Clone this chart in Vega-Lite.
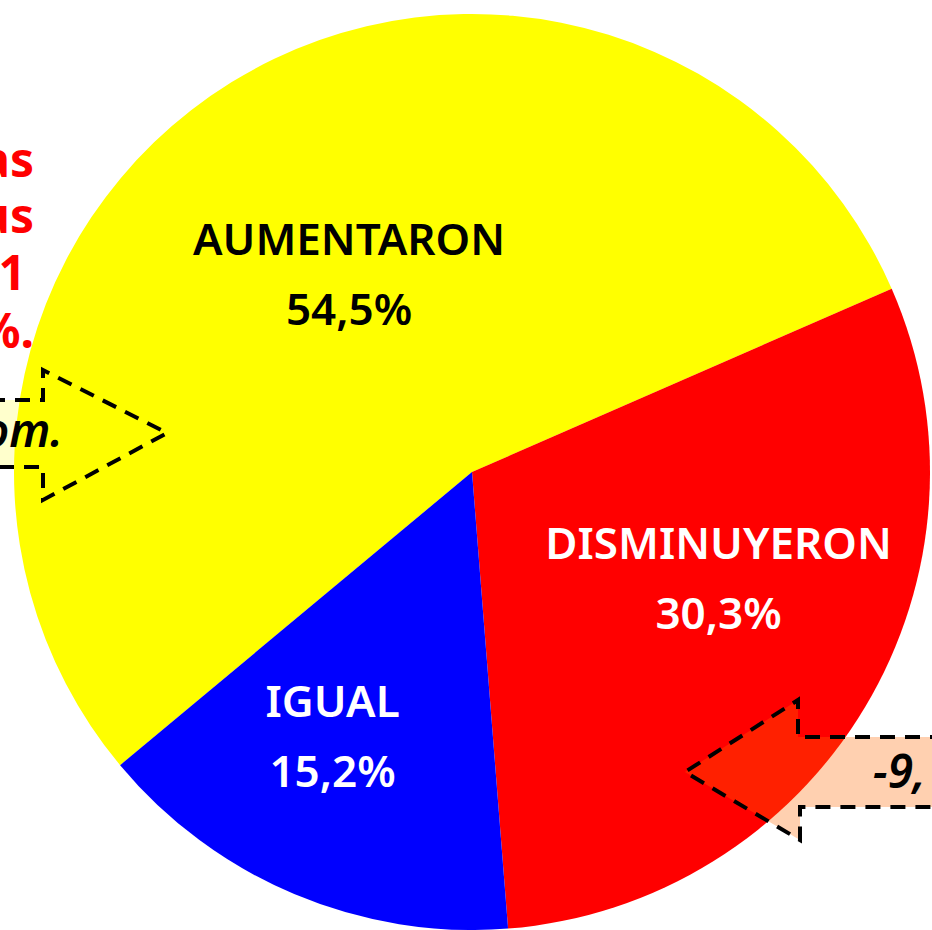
{
  "$schema": "https://vega.github.io/schema/vega-lite/v6.json",
  "width": 916,
  "height": 916,
  "padding": {"left": 14, "top": 14, "right": 2, "bottom": 0},
  "autosize": {"type": "none"},
  "background": "white",
  "config": {"view": {"stroke": null}, "font": "Noto Sans"},
  "datasets": {
    "respuestas": [
      {"categoria": "AUMENTARON", "orden": 1, "pct": 54.5, "etiqueta": "AUMENTARON\n54,5%"},
      {"categoria": "DISMINUYERON", "orden": 2, "pct": 30.3, "etiqueta": "DISMINUYERON\n30,3%"},
      {"categoria": "IGUAL", "orden": 3, "pct": 15.2, "etiqueta": "IGUAL\n15,2%"}
    ],
    "flechas": [
      {"flecha": "izquierda", "punto": 1, "x": -10, "y": 400},
      {"flecha": "izquierda", "punto": 2, "x": 43, "y": 400},
      {"flecha": "izquierda", "punto": 3, "x": 43, "y": 370},
      {"flecha": "izquierda", "punto": 4, "x": 167, "y": 433},
      {"flecha": "izquierda", "punto": 5, "x": 43, "y": 500},
      {"flecha": "izquierda", "punto": 6, "x": 43, "y": 467},
      {"flecha": "izquierda", "punto": 7, "x": -10, "y": 467},
      {"flecha": "derecha", "punto": 1, "x": 945, "y": 737},
      {"flecha": "derecha", "punto": 2, "x": 798, "y": 737},
      {"flecha": "derecha", "punto": 3, "x": 798, "y": 700},
      {"flecha": "derecha", "punto": 4, "x": 685, "y": 772},
      {"flecha": "derecha", "punto": 5, "x": 800, "y": 840},
      {"flecha": "derecha", "punto": 6, "x": 800, "y": 807},
      {"flecha": "derecha", "punto": 7, "x": 945, "y": 807}
    ],
    "notas_rojas": [
      {"texto": "as", "x": 34, "y": 177},
      {"texto": "us", "x": 34, "y": 233},
      {"texto": ",1", "x": 26, "y": 290},
      {"texto": "%.", "x": 34, "y": 348}
    ],
    "notas_izq": [{"texto": "om.", "x": 63, "y": 447}],
    "notas_der": [{"texto": "−9,", "x": 873, "y": 788}]
  },
  "layer": [
    {
      "data": {"name": "respuestas"},
      "mark": {"type": "arc", "stroke": null},
      "encoding": {
        "theta": {"field": "pct", "type": "quantitative", "stack": true, "scale": {"range": [4.0178, 10.301]}},
        "color": {
          "field": "categoria", "type": "nominal",
          "scale": {"domain": ["AUMENTARON", "DISMINUYERON", "IGUAL"], "range": ["#FFFF00", "#FF0000", "#0000FF"]},
          "legend": null
        },
        "order": {"field": "orden", "type": "quantitative"}
      }
    },
    {
      "data": {"name": "respuestas"},
      "mark": {"type": "text", "radius": 234, "dy": -31, "fontSize": 44, "fontWeight": 600, "lineBreak": "\n", "lineHeight": 70, "fill": "#000000", "align": "center", "baseline": "middle"},
      "encoding": {
        "theta": {"field": "pct", "type": "quantitative", "stack": true},
        "detail": {"field": "categoria", "type": "nominal"},
        "order": {"field": "orden", "type": "quantitative"},
        "text": {"condition": {"test": "datum.categoria === 'AUMENTARON'", "field": "etiqueta"}, "value": ""}
      }
    },
    {
      "data": {"name": "respuestas"},
      "mark": {"type": "text", "radius": 270, "dx": 15, "dy": -65, "fontSize": 44, "fontWeight": 600, "lineBreak": "\n", "lineHeight": 70, "fill": "#FFFFFF", "align": "center", "baseline": "middle"},
      "encoding": {
        "theta": {"field": "pct", "type": "quantitative", "stack": true},
        "detail": {"field": "categoria", "type": "nominal"},
        "order": {"field": "orden", "type": "quantitative"},
        "text": {"condition": {"test": "datum.categoria === 'DISMINUYERON'", "field": "etiqueta"}, "value": ""}
      }
    },
    {
      "data": {"name": "respuestas"},
      "mark": {"type": "text", "radius": 300, "dx": -23, "dy": -44, "fontSize": 44, "fontWeight": 600, "lineBreak": "\n", "lineHeight": 70, "fill": "#FFFFFF", "align": "center", "baseline": "middle"},
      "encoding": {
        "theta": {"field": "pct", "type": "quantitative", "stack": true},
        "detail": {"field": "categoria", "type": "nominal"},
        "order": {"field": "orden", "type": "quantitative"},
        "text": {"condition": {"test": "datum.categoria === 'IGUAL'", "field": "etiqueta"}, "value": ""}
      }
    },
    {
      "data": {"name": "flechas"},
      "transform": [{"filter": "datum.flecha === 'izquierda'"}],
      "mark": {"type": "line", "interpolate": "linear", "stroke": "#000000", "strokeWidth": 4, "strokeDash": [15, 10], "fill": "#FFFF00", "fillOpacity": 0.2},
      "encoding": {
        "x": {"field": "x", "type": "quantitative", "scale": {"domain": [14, 930], "nice": false, "zero": false}, "axis": null},
        "y": {"field": "y", "type": "quantitative", "scale": {"domain": [14, 930], "nice": false, "zero": false, "reverse": true}, "axis": null},
        "order": {"field": "punto", "type": "quantitative"}
      }
    },
    {
      "data": {"name": "flechas"},
      "transform": [{"filter": "datum.flecha === 'derecha'"}],
      "mark": {"type": "line", "interpolate": "linear", "stroke": "#000000", "strokeWidth": 4, "strokeDash": [15, 10], "fill": "#FF6700", "fillOpacity": 0.31},
      "encoding": {
        "x": {"field": "x", "type": "quantitative", "scale": {"domain": [14, 930], "nice": false, "zero": false}, "axis": null},
        "y": {"field": "y", "type": "quantitative", "scale": {"domain": [14, 930], "nice": false, "zero": false, "reverse": true}, "axis": null},
        "order": {"field": "punto", "type": "quantitative"}
      }
    },
    {
      "data": {"name": "notas_rojas"},
      "mark": {"type": "text", "fontSize": 48, "fontWeight": "bold", "fill": "#FF0000", "align": "right", "baseline": "alphabetic"},
      "encoding": {
        "x": {"field": "x", "type": "quantitative", "scale": {"domain": [14, 930], "nice": false, "zero": false}, "axis": null},
        "y": {"field": "y", "type": "quantitative", "scale": {"domain": [14, 930], "nice": false, "zero": false, "reverse": true}, "axis": null},
        "text": {"field": "texto"}
      }
    },
    {
      "data": {"name": "notas_izq"},
      "mark": {"type": "text", "fontSize": 46, "fontStyle": "italic", "fontWeight": 600, "fill": "#000000", "align": "right", "baseline": "alphabetic"},
      "encoding": {
        "x": {"field": "x", "type": "quantitative", "scale": {"domain": [14, 930], "nice": false, "zero": false}, "axis": null},
        "y": {"field": "y", "type": "quantitative", "scale": {"domain": [14, 930], "nice": false, "zero": false, "reverse": true}, "axis": null},
        "text": {"field": "texto"}
      }
    },
    {
      "data": {"name": "notas_der"},
      "mark": {"type": "text", "fontSize": 46, "fontStyle": "italic", "fontWeight": 600, "fill": "#000000", "align": "left", "baseline": "alphabetic"},
      "encoding": {
        "x": {"field": "x", "type": "quantitative", "scale": {"domain": [14, 930], "nice": false, "zero": false}, "axis": null},
        "y": {"field": "y", "type": "quantitative", "scale": {"domain": [14, 930], "nice": false, "zero": false, "reverse": true}, "axis": null},
        "text": {"field": "texto"}
      }
    }
  ]
}
